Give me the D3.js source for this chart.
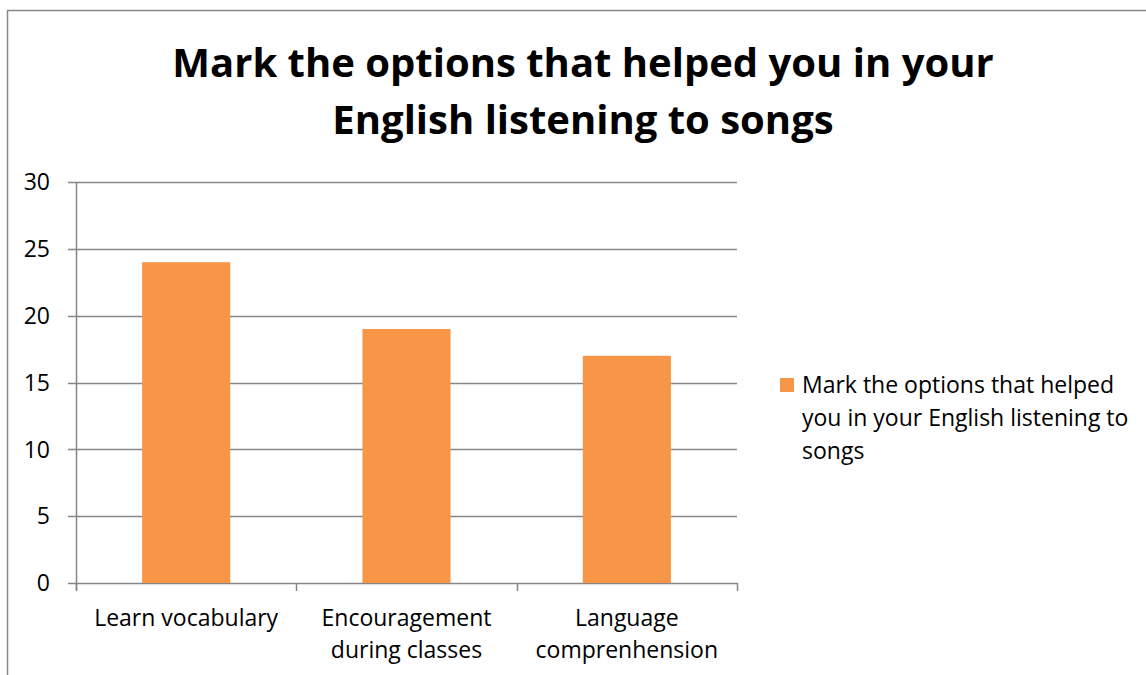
<!DOCTYPE html>
<html>
<head>
<meta charset="utf-8">
<script src="https://cdn.jsdelivr.net/npm/d3@7"></script>
<style>
  html, body { margin: 0; padding: 0; background: #fff; }
  svg { display: block; }
  text { font-family: "Open Sans", sans-serif; fill: #000; }
</style>
</head>
<body>
<svg id="chart" width="1146" height="675"></svg>
<script>
// Survey results: options that helped with English listening through songs
const categories = [["Learn vocabulary"], ["Encouragement", "during classes"], ["Language", "comprenhension"]];
const values = [24, 19, 17];
const yTicks = [0, 5, 10, 15, 20, 25, 30];
const titleLines = ["Mark the options that helped you in your", "English listening to songs"];
const legendLines = ["Mark the options that helped", "you in your English listening to", "songs"];

const W = 1146, H = 675;
const svg = d3.select("#chart");
const grid = "#868686";
const barColor = "#F79646";
const labelSize = "23px";

// outer chart frame
svg.append("rect")
  .attr("x", 7.5).attr("y", 10.5)
  .attr("width", W + 10).attr("height", H + 10)
  .attr("fill", "none").attr("stroke", "#898989").attr("stroke-width", 1.5);

// title
svg.append("g").selectAll("text").data(titleLines).join("text")
  .attr("x", 583).attr("y", (d, i) => 77 + i * 57)
  .attr("text-anchor", "middle")
  .style("font-size", "40px").style("font-weight", "bold")
  .text(d => d);

const plot = { left: 76, right: 737, top: 182, bottom: 583 };

const x = d3.scaleBand()
  .domain(d3.range(values.length))
  .range([plot.left, plot.right])
  .paddingInner(0).paddingOuter(0);

const y = d3.scaleLinear().domain([0, 30]).range([plot.bottom, plot.top]);

// horizontal gridlines with left tick stubs
svg.append("g").selectAll("line").data(yTicks).join("line")
  .attr("x1", plot.left - 8).attr("x2", plot.right)
  .attr("y1", d => Math.round(y(d)) + 0.5).attr("y2", d => Math.round(y(d)) + 0.5)
  .attr("stroke", grid).attr("stroke-width", 1.5);

// y axis line
svg.append("line")
  .attr("x1", plot.left + 0.5).attr("x2", plot.left + 0.5)
  .attr("y1", plot.top).attr("y2", plot.bottom + 8)
  .attr("stroke", grid).attr("stroke-width", 1.5);

// y tick labels
svg.append("g").selectAll("text").data(yTicks).join("text")
  .attr("x", 50).attr("y", d => y(d))
  .attr("dy", "0.36em")
  .attr("text-anchor", "end")
  .style("font-size", labelSize)
  .text(d => d);

// category boundary ticks below the baseline
const bounds = d3.range(values.length + 1).map(i => i < values.length ? x(i) : x(values.length - 1) + x.bandwidth());
svg.append("g").selectAll("line").data(bounds).join("line")
  .attr("x1", d => Math.round(d) + 0.5).attr("x2", d => Math.round(d) + 0.5)
  .attr("y1", plot.bottom).attr("y2", plot.bottom + 8)
  .attr("stroke", grid).attr("stroke-width", 1.5);

// bars
const barW = x.bandwidth() * 0.4;
svg.append("g").selectAll("rect").data(values).join("rect")
  .attr("x", (d, i) => x(i) + (x.bandwidth() - barW) / 2)
  .attr("width", barW)
  .attr("y", d => y(d))
  .attr("height", d => y(0) - y(d))
  .attr("fill", barColor);

// category labels
const cat = svg.append("g").selectAll("text").data(categories).join("text")
  .attr("text-anchor", "middle")
  .style("font-size", labelSize);
cat.selectAll("tspan").data((d, i) => d.map(s => ({ s, i }))).join("tspan")
  .attr("x", d => x(d.i) + x.bandwidth() / 2)
  .attr("y", (d, j) => 626 + j * 32)
  .text(d => d.s);

// legend
svg.append("rect")
  .attr("x", 780).attr("y", 378).attr("width", 14).attr("height", 14)
  .attr("fill", barColor);
svg.append("g").selectAll("text").data(legendLines).join("text")
  .attr("x", 802).attr("y", (d, i) => 393 + i * 33)
  .style("font-size", labelSize)
  .text(d => d);
</script>
</body>
</html>
